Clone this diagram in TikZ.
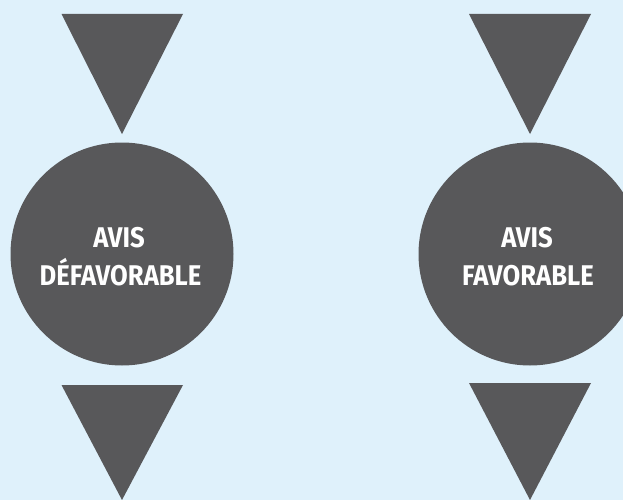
\documentclass[tikz,border=0pt]{standalone}
\usepackage{fontspec}
\newfontfamily\lblfont{Fira Sans}[FakeStretch=0.9]
\definecolor{bgblue}{HTML}{DFF1FB}
\definecolor{dgrey}{HTML}{58585A}
\begin{document}
\begin{tikzpicture}[x=1pt,y=-1pt,
  tri/.style={fill=dgrey,draw=none},
  disc/.style={circle,fill=dgrey,draw=none,minimum size=223pt,inner sep=0pt},
  lbl/.style={text=white,font=\lblfont\bfseries\fontsize{28.5}{38}\selectfont,
    inner sep=0pt,anchor=base}]
\fill[bgblue] (0,0) rectangle (623,500);
\useasboundingbox (0,0) rectangle (623,500);
% left column
\fill[tri] (61.5,14) -- (183,14) -- (122,134) -- cycle;
\node[disc] (left) at (122,254) {};
\node[lbl] (leftA) at (119,247.3) {AVIS};
\node[lbl] (leftB) at (120.5,285.7) {DÉFAVORABLE};
\fill[tri] (61.5,385) -- (183,385) -- (122,500) -- cycle;
% right column
\fill[tri] (469,14) -- (591,14) -- (530,134) -- cycle;
\node[disc] (right) at (530,254) {};
\node[lbl] (rightA) at (527,247.3) {AVIS};
\node[lbl] (rightB) at (528,285.7) {FAVORABLE};
\fill[tri] (469,383) -- (591,383) -- (530,500) -- cycle;
\end{tikzpicture}
\end{document}
